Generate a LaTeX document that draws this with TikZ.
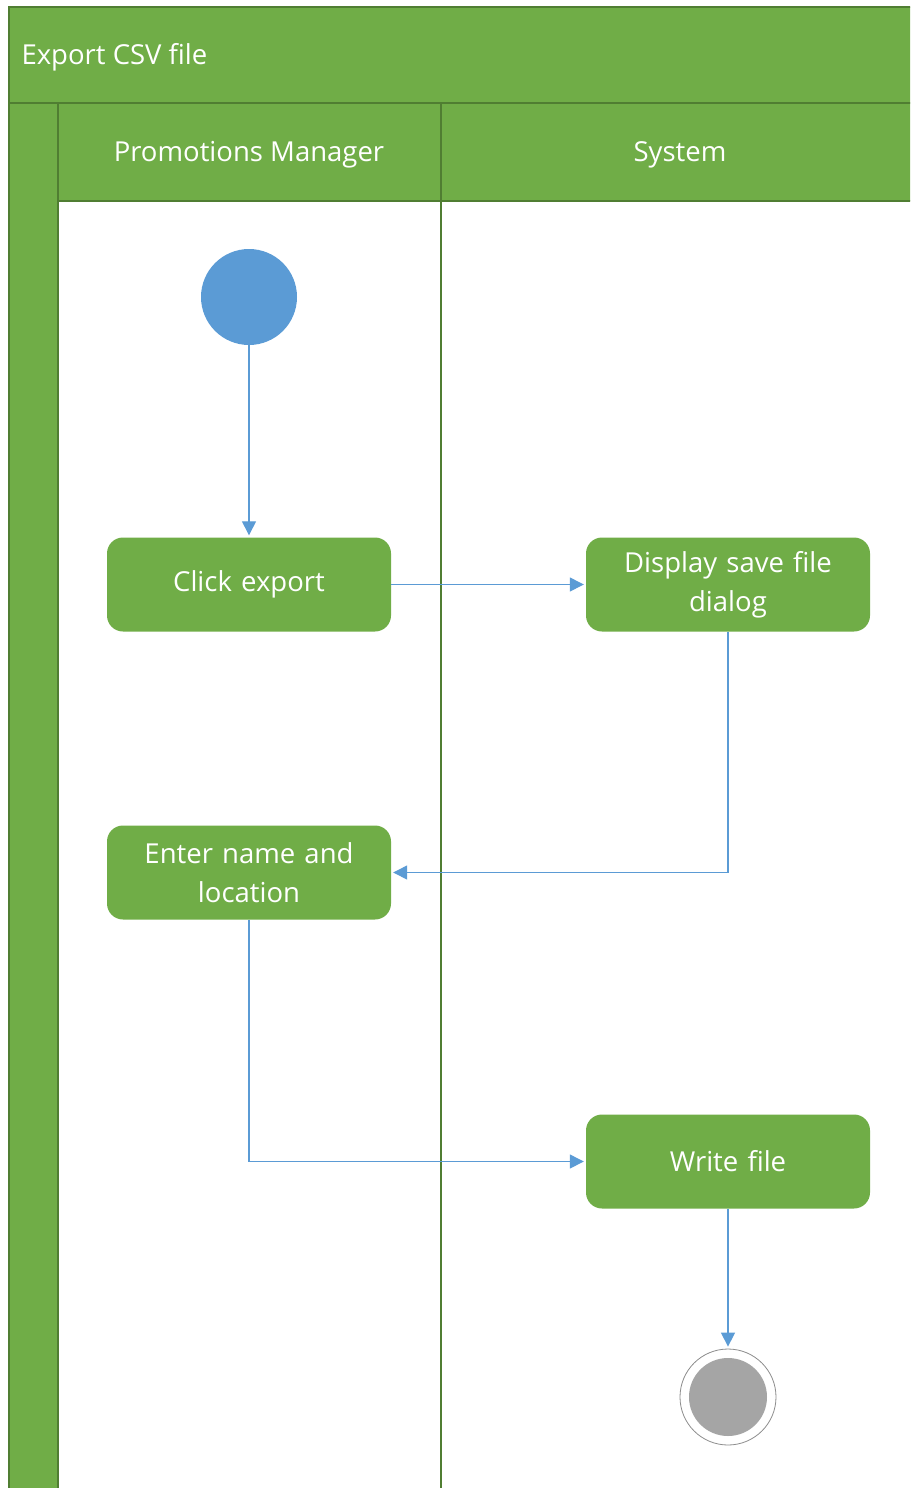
\documentclass[tikz,border=0pt]{standalone}
\usepackage{fontspec}
\setmainfont{Open Sans}
\usetikzlibrary{arrows.meta,positioning}
\definecolor{lanegreen}{HTML}{70AD47}
\definecolor{darkgreen}{HTML}{507E32}
\definecolor{flowblue}{HTML}{5B9BD5}
\definecolor{endgray}{HTML}{A5A5A5}
\definecolor{ringgray}{HTML}{8C8C8C}
\tikzset{
  lane/.style={fill=lanegreen},
  laneline/.style={draw=darkgreen, line width=1.2pt},
  lanetext/.style={text=white, font=\fontsize{27.5}{33}\selectfont},
  action/.style={rectangle, rounded corners=16pt, fill=lanegreen, text=white, align=center,
    font=\fontsize{27.5}{39}\selectfont, minimum width=284pt, minimum height=94pt, text width=260pt},
  startnode/.style={circle, fill=flowblue, minimum size=96pt, inner sep=0pt},
  endnode/.style={circle, draw=ringgray, fill=white, line width=0.8pt, minimum size=96pt, inner sep=0pt,
    path picture={\fill[endgray] (path picture bounding box.center) circle (39pt);}},
  flow/.style={-{Triangle[length=14pt,width=14pt]}, draw=flowblue, line width=1.3pt, shorten >=2pt}
}
\begin{document}
\begin{tikzpicture}[x=1pt, y=-1pt]
\clip (0,0) rectangle (910,1488);
% pool and lanes
\fill[lane] (9,7) rectangle (920,103);
\fill[lane] (9,103) rectangle (58,1500);
\fill[lane] (58,103) rectangle (920,201);
\draw[laneline] (9,1500) -- (9,7) -- (920,7);
\draw[laneline] (9,103) -- (920,103);
\draw[laneline] (58,201) -- (920,201);
\draw[laneline] (58,103) -- (58,1500);
\draw[laneline] (441,103) -- (441,1500);
\node[lanetext, anchor=west] (pool) at (18,57) {Export CSV file};
\node[lanetext] (manager) at (249,155) {Promotions Manager};
\node[lanetext] (system) at (680,155) {System};
% activities
\node[startnode] (start) at (249,297) {};
\node[action] (click) at (249,584.5) {Click export};
\node[action] (display) at (728,584.5) {Display save file\\dialog};
\node[action] (enter) at (249,872.5) {Enter name and\\location};
\node[action] (write) at (728,1161.5) {Write file};
\node[endnode] (end) at (728,1397) {};
% flows
\draw[flow] (start) -- (click);
\draw[flow] (click) -- (display);
\draw[flow] (display.south) |- (enter.east);
\draw[flow] (enter.south) |- (write.west);
\draw[flow] (write) -- (end);
\end{tikzpicture}
\end{document}
